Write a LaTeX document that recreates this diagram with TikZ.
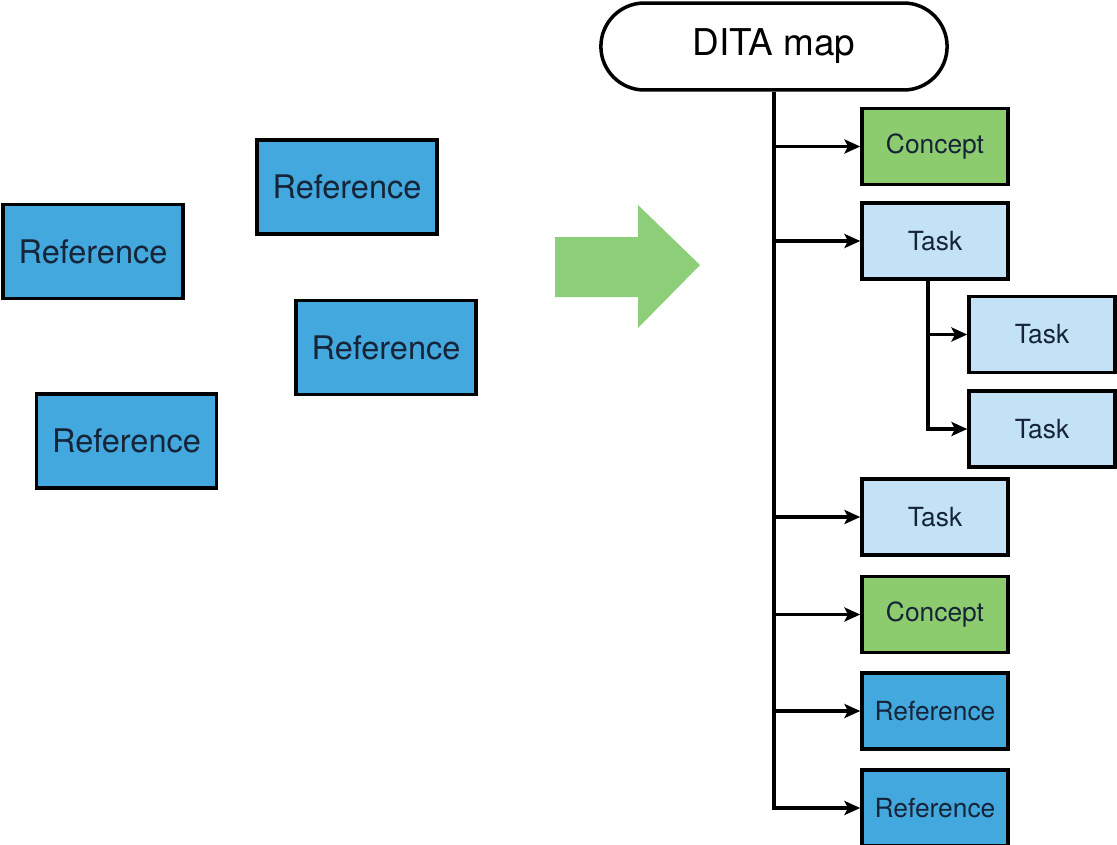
\documentclass[tikz,border=0pt]{standalone}
\usepackage{fontspec}
\setmainfont{TeX Gyre Heros}
\usetikzlibrary{arrows.meta,shapes.misc}
\definecolor{refblue}{RGB}{66,168,222}
\definecolor{tasklight}{RGB}{196,226,245}
\definecolor{conceptgreen}{RGB}{141,203,111}
\definecolor{biggreen}{RGB}{141,206,120}
\definecolor{topictext}{RGB}{22,36,56}
\tikzset{
  topic/.style={rectangle, draw=black, line width=2pt, text=topictext, inner sep=2pt},
  refbox/.style={topic, fill=refblue, minimum width=3.6cm, minimum height=1.88cm, font=\fontsize{18.5}{22}\selectfont},
  item/.style={topic, minimum width=2.92cm, minimum height=1.52cm, font=\fontsize{15}{18}\selectfont},
  conc/.style={item, fill=conceptgreen},
  tsk/.style={item, fill=tasklight},
  rref/.style={item, fill=refblue},
  mapnode/.style={rounded rectangle, draw, line width=2pt, fill=white, minimum width=7.16cm, minimum height=1.74cm, font=\fontsize{21}{25}\selectfont},
  arr/.style={-{Stealth[length=9pt,width=8pt,inset=2pt]}, line width=1.8pt},
}
\begin{document}
\begin{tikzpicture}[x=0.02cm, y=-0.02cm]
  \useasboundingbox (0,0) rectangle (1117,845);

  % loose topics
  \node[refbox] (refA) at (93,251.5) {Reference};
  \node[refbox] (refB) at (347,187) {Reference};
  \node[refbox] (refC) at (386,347.5) {Reference};
  \node[refbox] (refD) at (126.5,441) {Reference};

  % big green arrow
  \fill[biggreen] (555,237) -- (638,237) -- (638,205) -- (700,265)
    -- (638,328) -- (638,297) -- (555,297) -- cycle;

  % the map and its topics
  \node[mapnode] (map) at (774,46.5) {DITA map};
  \node[conc] (c1) at (935,146.5) {Concept};
  \node[tsk] (t1) at (935,241) {Task};
  \node[tsk] (t2) at (1042,334.5) {Task};
  \node[tsk] (t3) at (1042,429) {Task};
  \node[tsk] (t4) at (935,517) {Task};
  \node[conc] (c2) at (935,614.5) {Concept};
  \node[rref] (r1) at (935,711) {Reference};
  \node[rref] (r2) at (935,808) {Reference};

  % connectors
  \draw[arr] (map.south) |- (r2.west);
  \foreach \n in {c1,t1,t4,c2,r1}
    \draw[arr] (map.south |- \n.west) -- (\n.west);

  \coordinate (tsplit) at ([xshift=-0.14cm]t1.south);
  \draw[arr] (tsplit) |- (t3.west);
  \draw[arr] (tsplit |- t2.west) -- (t2.west);
\end{tikzpicture}
\end{document}
